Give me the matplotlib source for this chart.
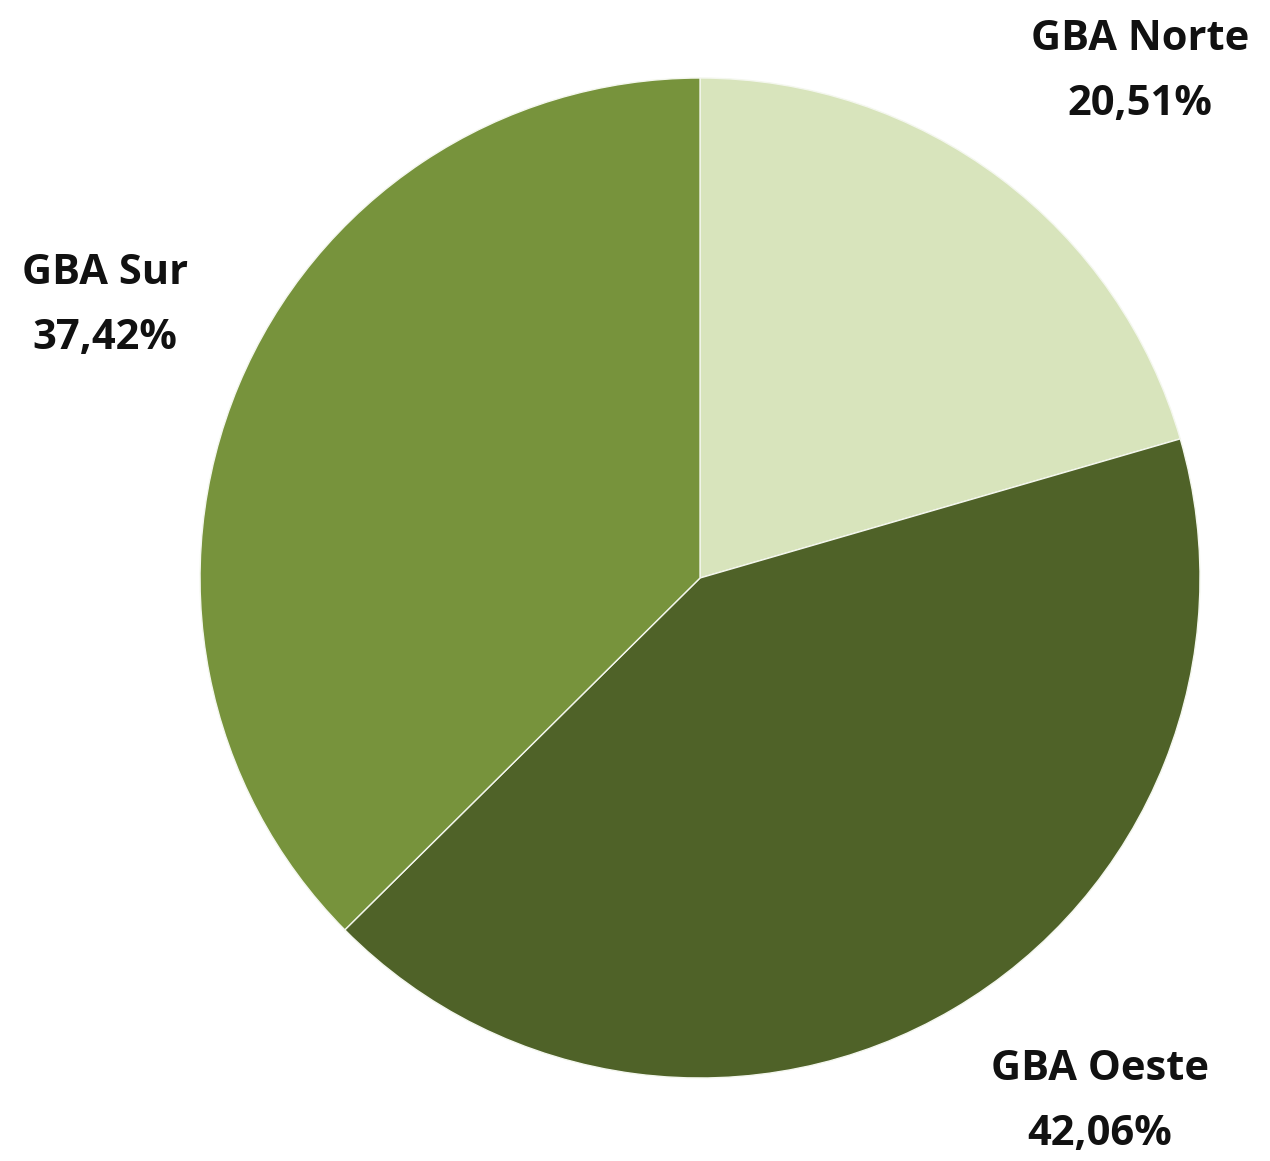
import matplotlib.pyplot as plt

regions = ['GBA Norte', 'GBA Oeste', 'GBA Sur']
shares = [20.51, 42.06, 37.42]
colors = ['#D8E4BC', '#4F6228', '#77933C']
# label anchor spots (pie units, radius 1)
label_pos = [(0.88, 1.012), (0.80, -1.048), (-1.19, 0.544)]

fig = plt.figure(figsize=(12.7, 11.61), dpi=100)
ax = fig.add_axes([0.1575, 0.0715, 0.7874, 0.8613])

ax.pie(shares, colors=colors, startangle=90, counterclock=False,
       radius=1, wedgeprops=dict(edgecolor='#f4f7ee', linewidth=1.0))
ax.set_xlim(-1, 1)
ax.set_ylim(-1, 1)
ax.set_aspect('equal')

for name, val, (x, y) in zip(regions, shares, label_pos):
    txt = name + '\n' + f'{val:.2f}'.replace('.', ',') + '%'
    ax.text(x, y, txt, ha='center', va='center', fontsize=30,
            fontweight='bold', family='Open Sans', color='#111111',
            linespacing=1.75, clip_on=False)

fig.savefig('out.png', dpi=100)
